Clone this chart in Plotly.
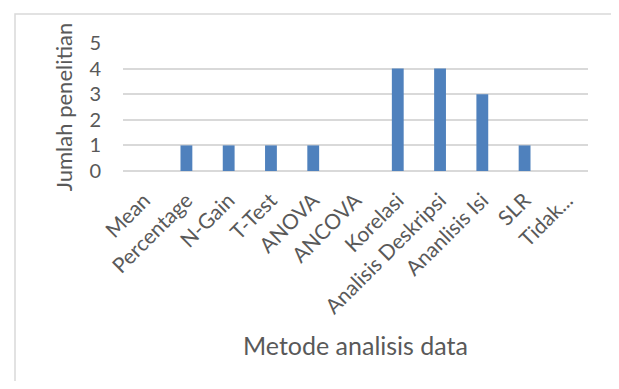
import plotly.graph_objects as go

categories = ["Mean", "Percentage", "N-Gain", "T-Test", "ANOVA", "ANCOVA",
              "Korelasi", "Analisis Deskripsi", "Ananlisis Isi", "SLR", "Tidak..."]
values = [0, 1, 1, 1, 1, 0, 4, 4, 3, 1, 0]
y_ticks = [0, 1, 2, 3, 4, 5]

# the page body has an 8px default margin; size the figure so the page does not scroll
OFF = 8
W, H = 619 - OFF, 389 - 2 * OFF
ml, mr, mt = 123 - OFF, 31, 43 - OFF
mb = H - (171 - OFF)
pw, ph = W - ml - mr, H - mt - mb

def px_x(x):
    return (x - OFF - ml) / pw

def px_y(y):
    return (H - mb - (y - OFF)) / ph

fig = go.Figure(go.Bar(x=categories, y=values, marker=dict(color="#4F81BD", line=dict(width=0))))

font = "Lato, Carlito, 'Open Sans', sans-serif"
fig.update_layout(
    width=W, height=H,
    margin=dict(l=ml, r=mr, t=mt, b=mb, pad=0, autoexpand=False),
    paper_bgcolor="white", plot_bgcolor="white",
    bargap=0.72,
    showlegend=False,
    font=dict(family=font, color="#595959"),
    xaxis=dict(
        tickangle=-45, tickfont=dict(size=21, color="#595959"),
        showgrid=False, showline=False, ticks="", automargin=False,
        ticklabelstandoff=12, ticklabelshift=0,
        title=dict(text="Metode analisis data", font=dict(size=25, color="#595959"), standoff=20),
    ),
    yaxis=dict(
        range=[0, 5], tickvals=y_ticks, tickfont=dict(size=20, color="#595959"),
        showgrid=True, gridcolor="#D9D9D9", gridwidth=1.5,
        zeroline=True, zerolinecolor="#D9D9D9", zerolinewidth=1.5,
        showline=False, ticks="", ticklabelstandoff=21, automargin=False,
        title=dict(text="Jumlah penelitian", font=dict(size=22, color="#595959"), standoff=10),
    ),
    shapes=[dict(
        type="rect", xref="paper", yref="paper",
        x0=px_x(15), x1=px_x(617), y0=px_y(420), y1=px_y(14),
        line=dict(color="#D9D9D9", width=1.5), fillcolor="rgba(0,0,0,0)", layer="below",
    )],
)

fig.write_html("out.html")
